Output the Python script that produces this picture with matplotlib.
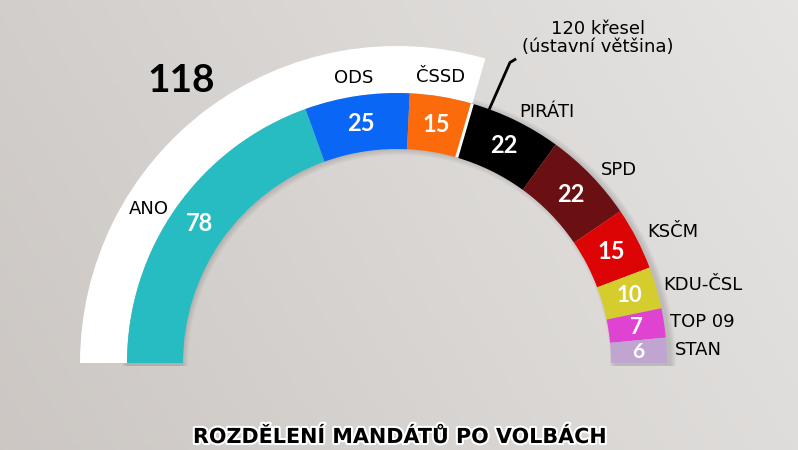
import numpy as np
import matplotlib
matplotlib.use("Agg")
import matplotlib.pyplot as plt
from matplotlib.patches import Wedge
import matplotlib.patheffects as pe

# ---- data ----
parties = ["ANO", "ODS", "ČSSD", "PIRÁTI", "SPD", "KSČM", "KDU-ČSL", "TOP 09", "STAN"]
seats = [78, 25, 15, 22, 22, 15, 10, 7, 6]
colors = ["#27bcc1", "#0a66f4", "#fb6b0c", "#000000", "#6a0f12", "#dc0404", "#d5cc2e", "#e043d2", "#bfa5cf"]
coalition_seats = 118
majority_seats = 120
majority_label = "120 křesel\n(ústavní většina)"
title = "ROZDĚLENÍ MANDÁTŮ PO VOLBÁCH"
total_seats = sum(seats)

# ---- style ----
W, H = 798, 450
cx, cy = 397, 450 - 363
r_out, ring_w = 270, 56
white_out, white_w = 317, 47
# label anchor positions (pixels from top-left) and alignment
label_xy = [(169, 209), (354, 78), (441, 77), (547, 112), (619, 170), (647, 232),
            (663, 285), (670, 322), (675, 350)]
label_ha = ["right", "center", "center", "center", "center", "left", "left", "left", "left"]
num_size = [17, 17, 17, 17, 17, 17, 16, 16, 15]
NUMFONT = ["Lato", "DejaVu Sans"]
LBLFONT = ["DejaVu Sans"]

fig = plt.figure(figsize=(W / 100, H / 100), dpi=100)
ax = fig.add_axes([0, 0, 1, 1])
ax.set_xlim(0, W)
ax.set_ylim(0, H)
ax.set_aspect("equal")
ax.axis("off")

# background gradient
gx = np.linspace(0, 1, 200)
gy = np.linspace(0, 1, 120)
GX, GY = np.meshgrid(gx, gy)
c0 = np.array([0.80, 0.78, 0.765])
c1 = np.array([0.90, 0.895, 0.89])
t = np.clip(0.75 * GX + 0.25 * GY, 0, 1)[..., None]
bg = c0 * (1 - t) + c1 * t
ax.imshow(bg, extent=[0, W, 0, H], origin="lower", aspect="auto", zorder=0)

def ang(s):
    return 180 - s / total_seats * 180

# coalition white arc
ax.add_patch(Wedge((cx, cy), white_out, ang(coalition_seats), 180, width=white_w,
                   facecolor="white", edgecolor="none", zorder=2))

# soft shadow
for k in range(6):
    ax.add_patch(Wedge((cx + 2, cy - 3), r_out + 2 + k, 0, 180, width=ring_w + 2 * k,
                       facecolor="black", alpha=0.025, edgecolor="none", zorder=1))

# party segments
cum = 0
for i, (p, s, c) in enumerate(zip(parties, seats, colors)):
    a1, a0 = ang(cum), ang(cum + s)
    ax.add_patch(Wedge((cx, cy), r_out, a0, a1, width=ring_w, facecolor=c,
                       edgecolor="none", zorder=3))
    mid = np.deg2rad((a0 + a1) / 2)
    rm = r_out - ring_w / 2
    ax.text(cx + rm * np.cos(mid), cy + rm * np.sin(mid), str(s), ha="center", va="center",
            color="white", fontsize=num_size[i], fontweight="bold", family=NUMFONT, zorder=5)
    lx, ly = label_xy[i]
    ax.text(lx, H - ly, p, ha=label_ha[i], va="center",
            color="black", fontsize=13, family=LBLFONT, zorder=5)
    cum += s

# white separator at coalition end
th = np.deg2rad(ang(coalition_seats))
ax.plot([cx + (r_out - ring_w) * np.cos(th), cx + r_out * np.cos(th)],
        [cy + (r_out - ring_w) * np.sin(th), cy + r_out * np.sin(th)],
        color="white", lw=2.2, zorder=4, solid_capstyle="butt")

# majority marker
ta = np.deg2rad(ang(majority_seats) - 2.0)
tb = np.deg2rad(ang(majority_seats) - 2.6)
x0, y0 = cx + (r_out + 1) * np.cos(ta), cy + (r_out + 1) * np.sin(ta)
x1, y1 = cx + 321 * np.cos(tb), cy + 321 * np.sin(tb)
ax.plot([x0, x1, x1 + 5], [y0, y1, y1 + 3], color="black", lw=2, zorder=5,
        solid_joinstyle="round")
ax.text(598, H - 38, majority_label, ha="center", va="center", fontsize=13,
        family=LBLFONT, linespacing=1.05, zorder=5)

# coalition total
ax.text(181, H - 80, str(coalition_seats), ha="center", va="center", fontsize=28,
        fontweight="bold", family=NUMFONT, zorder=5)

# title
ax.text(399, H - 437, title, ha="center", va="center", fontsize=14.9, fontweight="bold",
        family=LBLFONT, color="black", zorder=5,
        path_effects=[pe.withStroke(linewidth=3, foreground="white")])

fig.savefig("out.png", dpi=100)
